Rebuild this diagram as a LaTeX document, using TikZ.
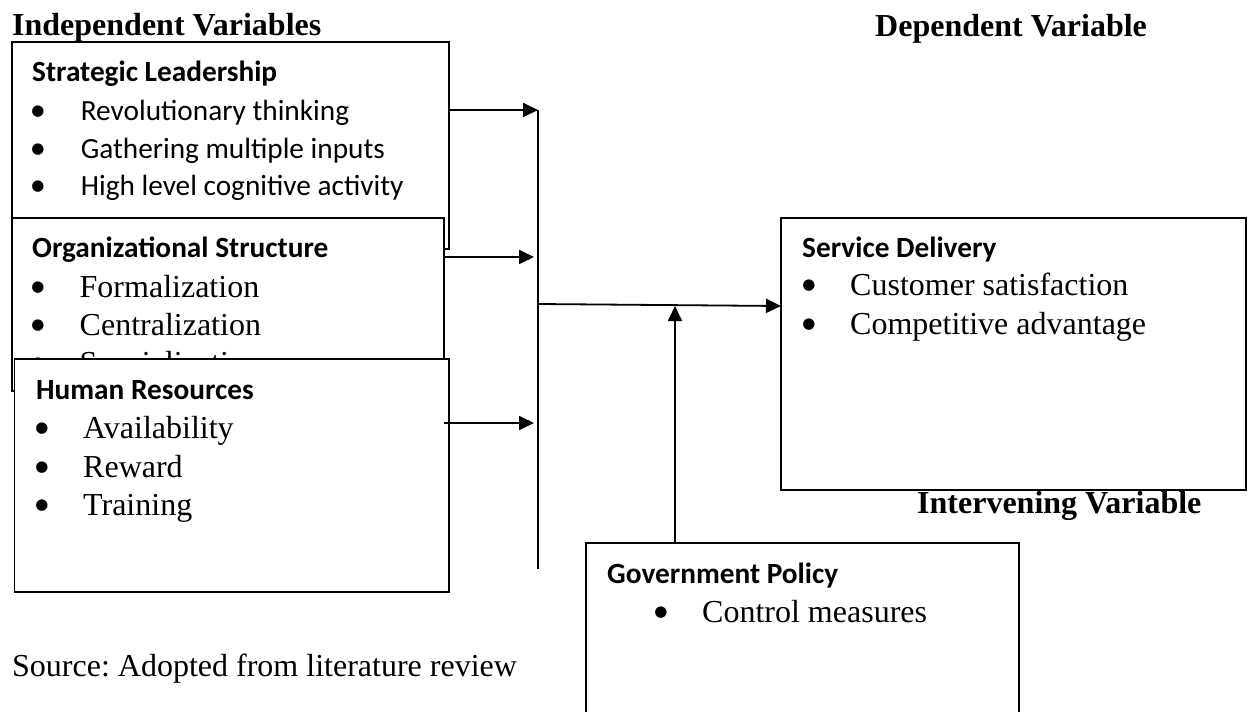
\documentclass[tikz,border=0pt]{standalone}
\usepackage{fontspec}
\setmainfont{Liberation Serif}
\newfontfamily\calfont{Carlito}
\newfontfamily\symfont{DejaVu Sans}
\usetikzlibrary{arrows.meta}
\frenchspacing
\begin{document}
\begin{tikzpicture}[x=1pt,y=-1pt,
  box/.style={draw=black, line width=1.8pt, fill=white, inner sep=0pt, outer sep=0pt, anchor=north west},
  head/.style={anchor=base west, inner sep=0pt, font=\fontsize{32}{38}\selectfont\bfseries},
  ttl/.style={anchor=base west, inner sep=0pt, font=\fontsize{29.3}{35}\selectfont\calfont\bfseries},
  itc/.style={anchor=base west, inner sep=0pt, font=\fontsize{29.3}{35}\selectfont\calfont},
  itt/.style={anchor=base west, inner sep=0pt, font=\fontsize{32}{38}\selectfont},
  bul/.style={anchor=center, inner sep=0pt, font=\fontsize{15}{17}\selectfont\symfont},
  arr/.style={line width=1.8pt, -{Triangle[length=15pt,width=14pt]}},
  conn/.style={line width=1.8pt}]
\useasboundingbox (0,0) rectangle (1248,712);

% headings
\node[head] (hind) at (12,35) {Independent Variables};
\node[head] (hdep) at (875,36) {Dependent Variable};
\node[head] (hint) at (917,513) {Intervening Variable};
\node[itt] (src) at (12,676) {Source: Adopted from literature review};

% Strategic Leadership
\node[box, minimum width=437pt, minimum height=207pt] (sl) at (12,42) {};
\node[ttl] (slt) at (32,81) {Strategic Leadership};
\node[bul] (slb1) at (38,112) {●};
\node[itc] (sl1) at (80.6,120) {Revolutionary thinking};
\node[bul] (slb2) at (38,150) {●};
\node[itc] (sl2) at (80.6,158) {Gathering multiple inputs};
\node[bul] (slb3) at (38,187) {●};
\node[itc] (sl3) at (80.6,195) {High level cognitive activity};

% Organizational Structure
\node[box, minimum width=432pt, minimum height=173pt] (os) at (12,218) {};
\node[ttl] (ost) at (32,257) {Organizational Structure};
\node[bul] (osb1) at (38,288) {●};
\node[itt] (os1) at (79.5,297) {Formalization};
\node[bul] (osb2) at (38,326) {●};
\node[itt] (os2) at (79.5,335) {Centralization};
\node[bul] (osb3) at (38,364) {●};
\node[itt] (os3) at (79.5,373) {Specialization};

% Human Resources
\node[box, minimum width=434.5pt, minimum height=233pt] (hr) at (14.5,359) {};
\node[ttl] (hrt) at (36,399) {Human Resources};
\node[bul] (hrb1) at (42,429) {●};
\node[itt] (hr1) at (83,438) {Availability};
\node[bul] (hrb2) at (42,468) {●};
\node[itt] (hr2) at (83,477) {Reward};
\node[bul] (hrb3) at (42,506) {●};
\node[itt] (hr3) at (83,515) {Training};

% Service Delivery
\node[box, minimum width=465pt, minimum height=272pt] (sd) at (781,218) {};
\node[ttl] (sdt) at (802,257) {Service Delivery};
\node[bul] (sdb1) at (809,286) {●};
\node[itt] (sd1) at (850,295) {Customer satisfaction};
\node[bul] (sdb2) at (809,325) {●};
\node[itt] (sd2) at (850,334) {Competitive advantage};

% Government Policy
\node[box, minimum width=433pt, minimum height=175pt] (gp) at (586,543) {};
\node[ttl] (gpt) at (607,583) {Government Policy};
\node[bul] (gpb1) at (661,613) {●};
\node[itt] (gp1) at (702,622) {Control measures};

% connectors
\coordinate (vt) at (538,110);
\coordinate (vb) at (538,569);
\coordinate (vj) at (538,304);
\coordinate (a2) at (534,257);
\coordinate (a3) at (534,423);
\coordinate (sdin) at (781,306);
\coordinate (ga) at (675,306);

\draw[conn] (vt) -- (vb);
\draw[arr] (sl.east |- vt) -- (vt);
\draw[arr] (os.east |- a2) -- (a2);
\draw[arr] (os.east |- a3) -- (a3);
\draw[arr] (vj) -- (sdin);
\draw[arr] (gp.north west -| ga) -- (ga);
\end{tikzpicture}
\end{document}
